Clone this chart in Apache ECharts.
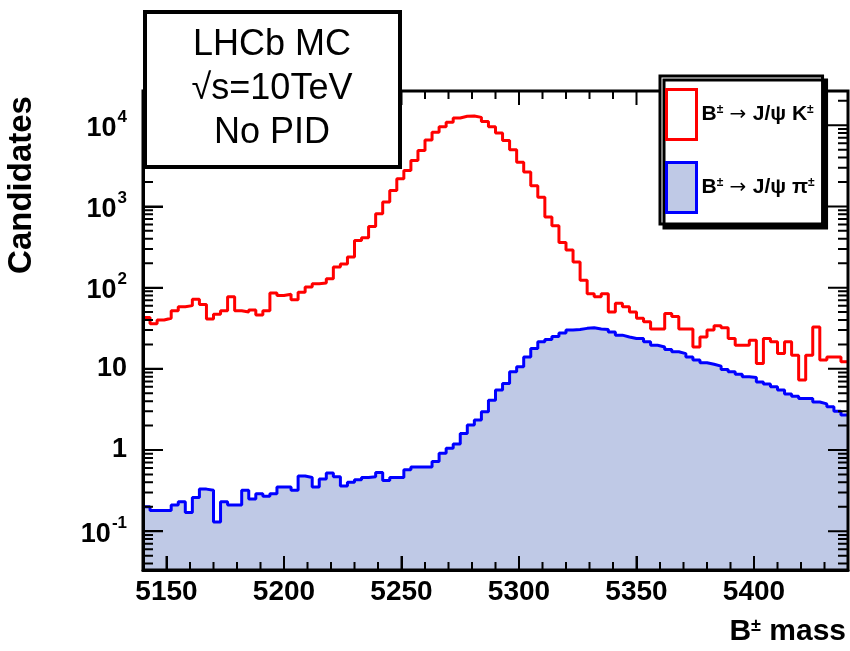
<!DOCTYPE html>
<html>
<head>
<meta charset="utf-8">
<script src="https://cdn.jsdelivr.net/npm/echarts@6/dist/echarts.min.js"></script>
<style>
html, body { margin: 0; padding: 0; background: #fff; }
#chart { width: 850px; height: 651px; }
</style>
</head>
<body>
<div id="chart"></div>
<script>
// histogram binning: 100 bins of 3 MeV from 5140 to 5440
var binLow = 5140;
var binWidth = 3;

// B+ -> J/psi K+ (red)
var kaonCounts = [
    43, 36, 40, 42, 52, 58, 60, 72, 62, 41,
    47, 52, 77, 52, 50, 53, 46, 52, 86, 80,
    83, 71, 88, 102, 112, 114, 129, 180, 195, 238,
    380, 410, 568, 813, 1130, 1570, 2190, 2770, 3680, 4890,
    6600, 8200, 9600, 10900, 12300, 12900, 13000, 12500, 11100, 9600,
    8000, 6500, 5000, 3500, 2650, 1800, 1300, 740, 580, 360,
    290, 207, 123, 84, 77, 84, 50, 64, 58, 50,
    42, 38, 31, 31, 48, 44, 31, 31, 18.6, 24.7,
    30, 34, 32, 23.6, 19.5, 19.5, 22.5, 11.6, 23.6, 21.5,
    15.4, 21.5, 14.7, 7.3, 14.7, 32.8, 12.8, 14, 14, 12.2
];

// B+ -> J/psi pi+ (blue, filled)
var pionCounts = [
    0.20, 0.18, 0.18, 0.18, 0.21, 0.23, 0.17, 0.26, 0.33, 0.32,
    0.13, 0.23, 0.21, 0.21, 0.32, 0.25, 0.29, 0.27, 0.29, 0.35,
    0.35, 0.32, 0.48, 0.46, 0.35, 0.44, 0.52, 0.47, 0.36, 0.40,
    0.43, 0.46, 0.47, 0.53, 0.42, 0.46, 0.46, 0.57, 0.62, 0.62,
    0.62, 0.72, 0.91, 1.05, 1.19, 1.6, 2.03, 2.34, 2.96, 4.1,
    5.5, 6.6, 9.2, 10.6, 14, 17.8, 21.5, 23, 25, 27.7,
    30, 30.5, 31.5, 32, 31, 30.5, 28.5, 26, 24.7, 23.6,
    23.6, 21.5, 19.5, 18.6, 17.3, 16.2, 15.4, 14, 12.8, 11.9,
    11.4, 10.8, 9.8, 9.2, 8.6, 8.0, 7.8, 6.9, 6.5, 6.0,
    5.5, 4.9, 4.6, 4.3, 4.3, 3.9, 3.7, 3.4, 3.0, 2.7
];

var xTicks = [5150, 5200, 5250, 5300, 5350, 5400];
var yTicks = [0.1, 1, 10, 100, 1000, 10000];
var yTickLabels = ['{m|10}{s|-1}', '{p|1}', '{p|10}', '{m|10}{s|2}', '{m|10}{s|3}', '{m|10}{s|4}'];

var nameK = 'B\u00b1 \u2192 J/\u03c8 K\u00b1';
var namePi = 'B\u00b1 \u2192 J/\u03c8 \u03c0\u00b1';
var legendLabels = {};
legendLabels[nameK] = '{b|B}{s|\u00b1}{a| \u2192 }{b|J/\u03c8 K}{s|\u00b1}';
legendLabels[namePi] = '{b|B}{s|\u00b1}{a| \u2192 }{b|J/\u03c8 \u03c0}{s|\u00b1}';

var xMin = 5140, xMax = 5440;
var yMin = 0.0333, yMax = 26400;

var FONT = 'Liberation Sans';

function stepPoints(counts) {
    var pts = counts.map(function (v, i) { return [binLow + i * binWidth, v]; });
    pts.push([binLow + counts.length * binWidth, counts[counts.length - 1]]);
    return pts;
}

// minor tick positions (decoration only)
var xMinor = [];
for (var m = xMin; m <= xMax; m += 10) xMinor.push(m);
var yMinor = [];
for (var p = -2; p <= 4; p++) {
    for (var k = 2; k <= 9; k++) {
        var v = k * Math.pow(10, p);
        if (v > yMin && v < yMax) yMinor.push(v);
    }
}

function yLabel(val) {
    for (var i = 0; i < yTicks.length; i++) {
        if (Math.abs(Math.log10(val) - Math.log10(yTicks[i])) < 0.01) return yTickLabels[i];
    }
    return '';
}

function xLabel(val) {
    return xTicks.indexOf(Math.round(val)) >= 0 ? String(Math.round(val)) : '';
}

var frameLine = { show: true, onZero: false, lineStyle: { color: '#000', width: 3 } };

function makeOption(tickData) {
    var series = [
        {
            name: namePi, type: 'line', step: 'end', z: 2,
            data: stepPoints(pionCounts), showSymbol: false, symbol: 'none',
            lineStyle: { color: '#0000ff', width: 3 },
            itemStyle: { color: '#0000ff' },
            areaStyle: { color: '#bfc9e6', opacity: 1, origin: 'start' }
        },
        {
            name: nameK, type: 'line', step: 'end', z: 3,
            data: stepPoints(kaonCounts), showSymbol: false, symbol: 'none',
            lineStyle: { color: '#ff0000', width: 3 },
            itemStyle: { color: '#ff0000' }
        }
    ];
    if (tickData) {
        // frame tick marks as short broken line segments
        series.push({
            name: 'ticks', type: 'line', z: 5, clip: false,
            data: tickData, showSymbol: false, symbol: 'none', connectNulls: false,
            lineStyle: { color: '#000', width: 2 },
            emphasis: { disabled: true }
        });
    }
    return {
        animation: false,
        backgroundColor: '#fff',
        grid: { left: 143, top: 91, right: 2, bottom: 81 },
        xAxis: {
            type: 'value', min: xMin, max: xMax, z: 6,
            axisLine: frameLine,
            axisTick: { show: true, inside: true, length: 14, lineStyle: { color: '#000', width: 2 } },
            splitLine: { show: false },
            axisLabel: {
                showMinLabel: false, showMaxLabel: false, formatter: xLabel,
                margin: 8, color: '#000', fontSize: 28, fontWeight: 'bold', fontFamily: FONT
            }
        },
        yAxis: {
            type: 'log', min: yMin, max: yMax, z: 6,
            axisLine: frameLine,
            axisTick: { show: true, inside: true, length: 20, lineStyle: { color: '#000', width: 2 } },
            splitLine: { show: false },
            axisLabel: {
                showMinLabel: false, showMaxLabel: false, formatter: yLabel,
                margin: 16, color: '#000',
                rich: {
                    p: { fontSize: 27, fontWeight: 'bold', fontFamily: FONT, color: '#000' },
                    m: { fontSize: 27, fontWeight: 'bold', fontFamily: FONT, color: '#000', padding: [6, 0, 0, 0], verticalAlign: 'bottom' },
                    s: { fontSize: 17, fontWeight: 'bold', fontFamily: FONT, color: '#000', padding: [0, 0, 0, 1], verticalAlign: 'top' }
                }
            }
        },
        legend: {
            orient: 'vertical', left: 660, top: 76,
            padding: [12, 8, 10, 5], itemWidth: 30, itemHeight: 50, itemGap: 20,
            backgroundColor: '#fff', borderColor: '#000', borderWidth: 3,
            shadowColor: '#000', shadowOffsetX: 4, shadowOffsetY: 4, shadowBlur: 0,
            selectedMode: false, icon: 'rect', z: 10,
            data: [
                { name: nameK, itemStyle: { color: '#fff', borderColor: '#ff0000', borderWidth: 3 } },
                { name: namePi, itemStyle: { color: '#bfc9e6', borderColor: '#0000ff', borderWidth: 3 } }
            ],
            formatter: function (name) { return legendLabels[name]; },
            textStyle: {
                rich: {
                    b: { fontSize: 21, fontWeight: 'bold', fontFamily: FONT, color: '#000' },
                    a: { fontSize: 20, fontFamily: 'DejaVu Sans', color: '#000' },
                    s: { fontSize: 12, fontWeight: 'bold', fontFamily: FONT, color: '#000', verticalAlign: 'top' }
                }
            }
        },
        series: series,
        graphic: [
            {
                // plot frame (top and right sides)
                type: 'rect', z: 7,
                shape: { x: 143, y: 91, width: 705, height: 479 },
                style: { fill: 'transparent', stroke: '#000', lineWidth: 3 }
            },
            {
                type: 'rect', z: 20,
                shape: { x: 145, y: 12, width: 255, height: 155 },
                style: { fill: '#fff', stroke: '#000', lineWidth: 4 }
            },
            {
                type: 'text', z: 21, x: 272, y: 89,
                style: {
                    text: 'LHCb MC\n\u221as=10TeV\nNo PID',
                    font: '36px "Liberation Sans"', fill: '#000',
                    lineHeight: 44,
                    align: 'center', verticalAlign: 'middle',
                    textAlign: 'center', textVerticalAlign: 'middle'
                }
            },
            {
                type: 'text', z: 21, x: 22, y: 185, rotation: Math.PI / 2,
                style: {
                    text: 'Candidates', font: 'bold 33px "Liberation Sans"', fill: '#000',
                    align: 'center', verticalAlign: 'middle',
                    textAlign: 'center', textVerticalAlign: 'middle'
                }
            },
            {
                type: 'text', z: 21, x: 846, y: 632,
                style: {
                    text: '{b|B}{s|\u00b1}{b| mass}',
                    align: 'right', verticalAlign: 'middle',
                    textAlign: 'right', textVerticalAlign: 'middle',
                    rich: {
                        b: { fontSize: 30, fontWeight: 'bold', fontFamily: FONT, fill: '#000', color: '#000' },
                        s: { fontSize: 18, fontWeight: 'bold', fontFamily: FONT, fill: '#000', color: '#000', verticalAlign: 'top' }
                    }
                }
            }
        ]
    };
}

var chart = echarts.init(document.getElementById('chart'));
chart.setOption(makeOption(null), true);

// tick segment end points, found through the grid's own scales
function buildTickData() {
    var lo = chart.convertToPixel({ gridIndex: 0 }, [xMin, yMin]);
    var hi = chart.convertToPixel({ gridIndex: 0 }, [xMax, yMax]);
    var x0 = lo[0], x1 = hi[0], y0 = hi[1], y1 = lo[1];
    function yAt(py) { return chart.convertFromPixel({ gridIndex: 0 }, [x0, py])[1]; }
    function xAt(px) { return chart.convertFromPixel({ gridIndex: 0 }, [px, y1])[0]; }
    var gap = ['-', '-'];
    var pts = [];
    function seg(a, b) { pts.push(a, b, gap); }
    function xMarks(values, len) {
        var yb = yAt(y1 - len), yt = yAt(y0 + len);
        values.forEach(function (val) {
            seg([val, yMin], [val, yb]);
            seg([val, yMax], [val, yt]);
        });
    }
    function yMarks(values, len) {
        var xl = xAt(x0 + len), xr = xAt(x1 - len);
        values.forEach(function (val) {
            seg([xMin, val], [xl, val]);
            seg([xMax, val], [xr, val]);
        });
    }
    xMarks(xMinor, 8);
    xMarks(xTicks, 14);
    yMarks(yMinor, 10);
    yMarks(yTicks, 20);
    return pts;
}

chart.setOption(makeOption(buildTickData()), true);

window.addEventListener('resize', function () {
    chart.resize();
});
</script>
</body>
</html>
